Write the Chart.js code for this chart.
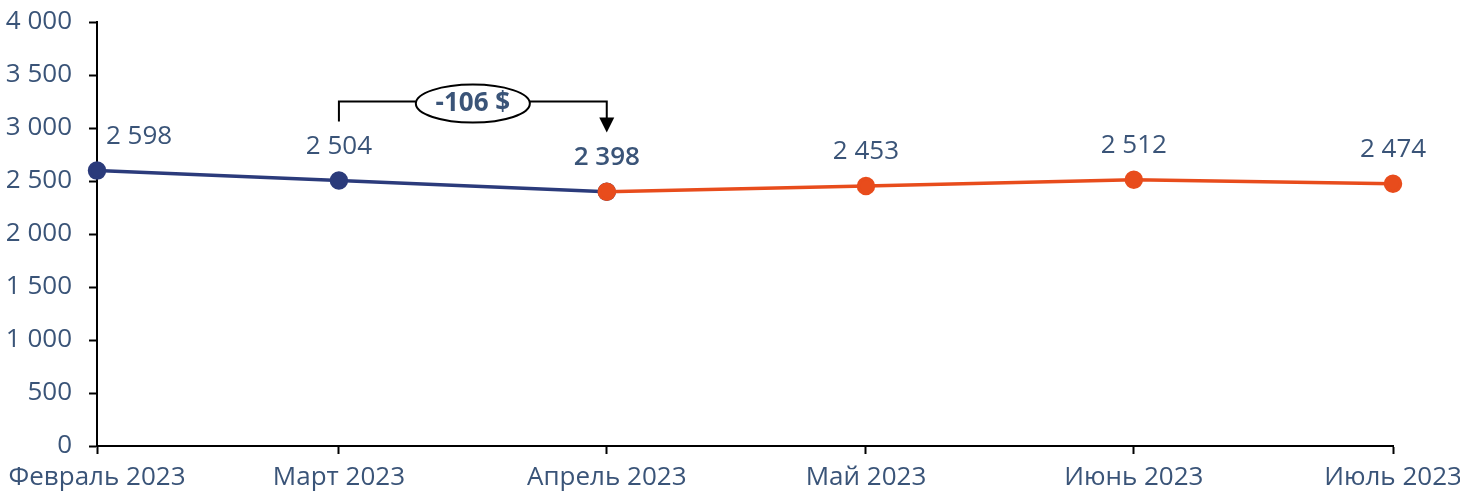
<!DOCTYPE html>
<html>
<head>
<meta charset="utf-8">
<script src="https://cdn.jsdelivr.net/npm/chart.js@4.4.0/dist/chart.umd.min.js"></script>
<style>
  html, body { margin: 0; padding: 0; background: #fff; }
  #wrap { width: 1460px; height: 493px; }
</style>
</head>
<body>
<div id="wrap"><canvas id="lineChart" width="1460" height="493"></canvas></div>
<script>
// месяцы и дни от 1 февраля (ось дат)
const months = ['Февраль 2023', 'Март 2023', 'Апрель 2023', 'Май 2023', 'Июнь 2023', 'Июль 2023'];
const monthDays = [0, 28, 59, 89, 120, 150];
const factValues = [2598, 2504, 2398];
const planValues = [null, null, 2398, 2453, 2512, 2474];
const yTicks = [0, 500, 1000, 1500, 2000, 2500, 3000, 3500, 4000];
const diffLabel = '-106 $';

const textColor = '#3a5478';
const fontFamily = '"Open Sans", "DejaVu Sans", sans-serif';
const fontSize = 26;

function fmt(v) {
    return String(v).replace(/\B(?=(\d{3})+(?!\d))/g, ' ');
}

function toPoints(vals) {
    const pts = [];
    vals.forEach((v, i) => {
        if (v !== null && v !== undefined) pts.push({ x: monthDays[i], y: v });
    });
    return pts;
}

const labelsPlugin = {
    id: 'labelsPlugin',
    afterDatasetsDraw(chart) {
        const ctx = chart.ctx;
        const xs = chart.scales.x;
        const ys = chart.scales.y;
        ctx.save();
        ctx.fillStyle = textColor;
        ctx.textAlign = 'center';
        ctx.textBaseline = 'middle';
        months.forEach((m, i) => {
            const v = planValues[i] !== null ? planValues[i] : factValues[i];
            let px = xs.getPixelForValue(monthDays[i]);
            const py = ys.getPixelForValue(v);
            if (i === 0) px += 42;
            // точка стыка факта и прогноза чуть жирнее
            ctx.font = (i === 2 ? '600 ' : '') + fontSize + 'px ' + fontFamily;
            ctx.fillText(fmt(v), px, py - 34);
        });

        // скобка с разницей между мартом и апрелем
        const x1 = xs.getPixelForValue(monthDays[1]);
        const x2 = xs.getPixelForValue(monthDays[2]);
        const yTop = ys.getPixelForValue(factValues[1]) - 79;
        const yStart = yTop + 20;
        const yTip = yTop + 31;
        const cx = (x1 + x2) / 2;
        const rx = 57, ry = 19;
        ctx.strokeStyle = '#000';
        ctx.lineWidth = 2;
        ctx.beginPath();
        ctx.moveTo(x1, yStart);
        ctx.lineTo(x1, yTop);
        ctx.lineTo(cx - rx, yTop);
        ctx.moveTo(cx + rx, yTop);
        ctx.lineTo(x2, yTop);
        ctx.lineTo(x2, yTip - 14);
        ctx.stroke();
        ctx.fillStyle = '#000';
        ctx.beginPath();
        ctx.moveTo(x2 - 7.5, yTip - 15);
        ctx.lineTo(x2 + 7.5, yTip - 15);
        ctx.lineTo(x2, yTip);
        ctx.closePath();
        ctx.fill();
        ctx.fillStyle = '#fff';
        ctx.beginPath();
        ctx.ellipse(cx, yTop + 2, rx, ry, 0, 0, Math.PI * 2);
        ctx.fill();
        ctx.stroke();
        ctx.fillStyle = textColor;
        ctx.font = 'bold ' + fontSize + 'px ' + fontFamily;
        ctx.fillText(diffLabel, cx, yTop + 2);
        ctx.restore();
    }
};

const chart = new Chart(document.getElementById('lineChart').getContext('2d'), {
    type: 'line',
    data: {
        datasets: [{
            label: 'Прогноз',
            data: toPoints(planValues),
            borderColor: '#e84c1c',
            backgroundColor: '#e84c1c',
            borderWidth: 3.5,
            pointRadius: 7.5,
            pointHoverRadius: 7.5,
            fill: false,
            clip: false,
            order: 0
        }, {
            label: 'Факт',
            data: toPoints(factValues),
            borderColor: '#2b3b7b',
            backgroundColor: '#2b3b7b',
            borderWidth: 3.5,
            pointRadius: 7.5,
            pointHoverRadius: 7.5,
            fill: false,
            clip: false,
            order: 1
        }]
    },
    options: {
        responsive: false,
        animation: false,
        layout: { padding: { top: 22, right: 67, left: 0, bottom: 0 } },
        plugins: {
            legend: { display: false },
            tooltip: { enabled: false }
        },
        scales: {
            x: {
                type: 'linear',
                min: 0,
                max: 150,
                afterBuildTicks: s => { s.ticks = monthDays.map(v => ({ value: v })); },
                afterFit: s => { s.height = 47; s.paddingLeft = 0; s.paddingRight = 0; },
                grid: { drawOnChartArea: false, drawTicks: true, tickLength: 8, color: '#000', tickWidth: 2 },
                border: { display: true, color: '#000', width: 2 },
                ticks: {
                    autoSkip: false,
                    maxRotation: 0,
                    padding: 8,
                    color: textColor,
                    font: { family: fontFamily, size: fontSize },
                    callback: v => months[monthDays.indexOf(v)]
                }
            },
            y: {
                min: 0,
                max: 4000,
                afterBuildTicks: s => { s.ticks = yTicks.map(v => ({ value: v })); },
                afterFit: s => { s.width = 97; s.paddingTop = 0; s.paddingBottom = 0; },
                grid: { drawOnChartArea: false, drawTicks: true, tickLength: 8, color: '#000', tickWidth: 2 },
                border: { display: true, color: '#000', width: 2 },
                ticks: {
                    padding: 17,
                    color: textColor,
                    font: { family: fontFamily, size: fontSize },
                    callback: v => fmt(v)
                }
            }
        }
    },
    plugins: [labelsPlugin]
});
</script>
</body>
</html>
